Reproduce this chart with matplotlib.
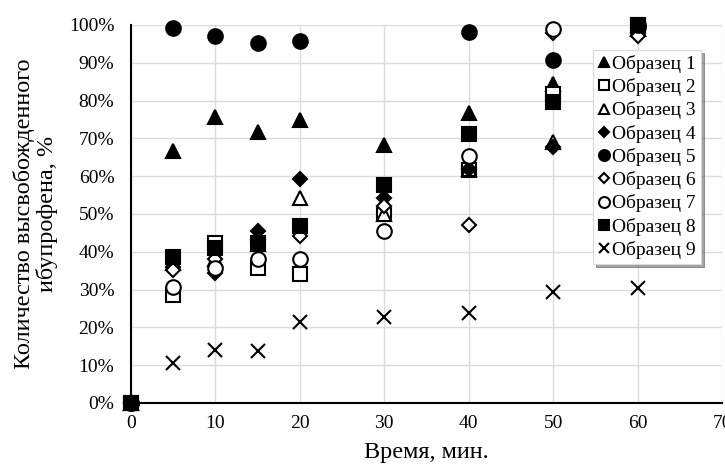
import numpy as np
import matplotlib
matplotlib.use('Agg')
import matplotlib.pyplot as plt

plt.rcParams['font.family'] = ['Liberation Serif', 'DejaVu Serif']

nan = np.nan
time_min = [0, 5, 10, 15, 20, 30, 40, 50, 60]
labels = ['Образец 1', 'Образец 2', 'Образец 3', 'Образец 4', 'Образец 5',
          'Образец 6', 'Образец 7', 'Образец 8', 'Образец 9']
s1 = [0, 66.7, 75.6, 71.7, 74.9, 68.3, 76.6, 84.5, 99.0]
s2 = [0, 28.6, 42.4, 35.7, 34.1, 50.1, 61.6, 81.7, 100.0]
s3 = [0, 37.0, 38.0, 42.0, 54.2, 50.0, 62.0, 69.0, 99.0]
s4 = [0, 36.0, 34.4, 45.6, 59.3, 54.1, 62.0, 67.8, 98.0]
s5 = [0, 99.3, 97.2, 95.3, 95.8, nan, 98.2, 90.8, 99.5]
s6 = [0, 35.2, 38.0, 43.0, 44.1, 52.0, 47.1, 98.0, 97.0]
s7 = [0, 30.6, 35.8, 38.1, 38.2, 45.4, 65.4, 99.0, 100.0]
s8 = [0, 38.6, 41.0, 42.4, 46.7, 57.7, 71.1, 79.7, 100.0]
s9 = [0, 10.7, 14.0, 13.8, 21.5, 22.8, 23.9, 29.3, 30.5]

series = [s1, s2, s3, s4, s5, s6, s7, s8, s9]
# marker, face colour, size
styles = [('^', 'black', 10.5), ('s', 'white', 10), ('^', 'white', 10.5),
          ('D', 'black', 7.2), ('o', 'black', 10.5), ('D', 'white', 7.2),
          ('o', 'white', 10.5), ('s', 'black', 10), ('x', 'black', 10)]

fig = plt.figure(figsize=(7.25, 4.66), dpi=100)
ax = fig.add_axes([0.1807, 0.1352, 0.8152, 0.8112])

for vals, lab, (m, fc, ms) in zip(series, labels, styles):
    ax.plot(time_min, vals, linestyle='none', marker=m, markersize=ms,
            markerfacecolor=fc, markeredgecolor='black', markeredgewidth=1.5,
            label=lab, clip_on=False, zorder=3)

ax.set_xlim(0, 70)
ax.set_ylim(0, 100)
ax.set_xticks(range(0, 71, 10))
ax.set_yticks(range(0, 101, 10))
ax.set_yticklabels([f'{v}%' for v in range(0, 101, 10)])
ax.tick_params(length=0, labelsize=14)
ax.tick_params(axis='y', pad=12)
ax.tick_params(axis='x', pad=9)
ax.grid(True, color='#dcdcdc', linewidth=1)
ax.set_axisbelow(True)
for side in ['top', 'right']:
    ax.spines[side].set_visible(False)
for side in ['left', 'bottom']:
    ax.spines[side].set_linewidth(1.5)

ax.set_xlabel('Время, мин.', fontsize=17.5, labelpad=7)
ax.set_ylabel('Количество высвобожденного\nибупрофена, %', fontsize=17.5,
              labelpad=8, linespacing=1.05)

leg = ax.legend(loc='upper left', bbox_to_anchor=(593 / 725, 1 - 50 / 466),
                bbox_transform=fig.transFigure, fontsize=14, frameon=True,
                shadow=True, fancybox=False, handlelength=0.6, handletextpad=0.15,
                labelspacing=0.27, borderpad=0.25, borderaxespad=0, markerscale=0.75)
leg.get_frame().set_edgecolor('#d9d9d9')
leg.get_frame().set_linewidth(0.8)

fig.savefig('out.png', dpi=100)
